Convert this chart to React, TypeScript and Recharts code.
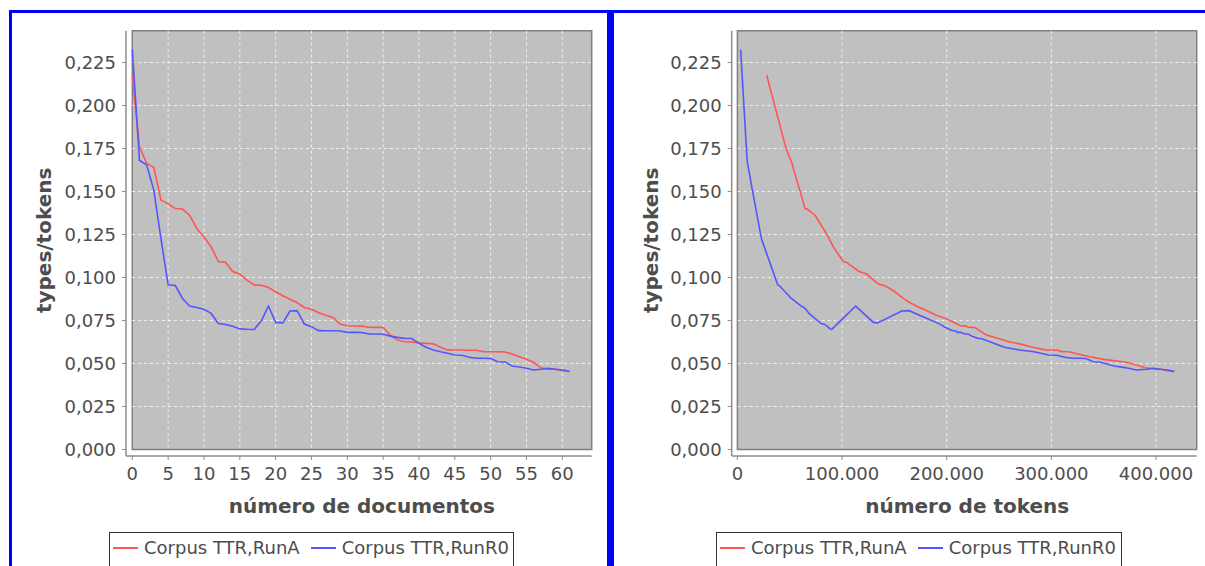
import { LineChart, Line, XAxis, YAxis, CartesianGrid, ReferenceArea, Legend } from "recharts";

// TTR per número de documentos (0..61)
const documentos = [
  0, 1, 2, 3, 4, 5, 6, 7, 8, 9, 10, 11, 12, 13, 14, 15, 16, 17, 18, 19, 20, 21, 22, 23, 24, 25, 26, 27, 28, 29, 30,
  31, 32, 33, 34, 35, 36, 37, 38, 39, 40, 41, 42, 43, 44, 45, 46, 47, 48, 49, 50, 51, 52, 53, 54, 55, 56, 57, 58, 59,
  60, 61,
];
const ttrRunA = [
  0.2176, 0.176, 0.1663, 0.164, 0.145, 0.1428, 0.1401, 0.1398, 0.1362, 0.1285, 0.1235, 0.1178, 0.1093, 0.1089, 0.1035,
  0.102, 0.0985, 0.0957, 0.0955, 0.0942, 0.0917, 0.0894, 0.0873, 0.0853, 0.0826, 0.0815, 0.0795, 0.0781, 0.0768, 0.073,
  0.0719, 0.0718, 0.0717, 0.0711, 0.071, 0.0709, 0.0665, 0.0636, 0.0626, 0.0625, 0.062, 0.0617, 0.0614, 0.0594, 0.0579,
  0.0578, 0.0578, 0.0577, 0.0577, 0.0569, 0.0568, 0.0568, 0.0567, 0.0555, 0.0539, 0.0524, 0.0507, 0.0475, 0.0467, 0.0466,
  0.046, 0.0452,
];
const ttrRunR0 = [
  0.2325, 0.168, 0.1655, 0.1508, 0.1225, 0.0957, 0.0953, 0.0878, 0.0834, 0.0826, 0.0815, 0.0791, 0.0732, 0.0727, 0.0716,
  0.0701, 0.0699, 0.0698, 0.0748, 0.0834, 0.0739, 0.0736, 0.0805, 0.0807, 0.0729, 0.0714, 0.0691, 0.069, 0.069, 0.0689,
  0.0681, 0.0681, 0.068, 0.0671, 0.0671, 0.067, 0.0659, 0.0652, 0.0646, 0.0645, 0.0617, 0.0594, 0.0578, 0.0568, 0.0559,
  0.0549, 0.0548, 0.0536, 0.053, 0.053, 0.0529, 0.051, 0.0509, 0.0485, 0.048, 0.0472, 0.0462, 0.0466, 0.0472, 0.0466,
  0.0462, 0.0455,
];
// cumulative token counts per document
const tokensRunA = [
  28000, 46000, 52200, 53200, 62400, 63300, 64600, 66500, 74200, 82100, 87000, 91600, 101200, 104000, 116200, 123500,
  130000, 136300, 140000, 144000, 150600, 155000, 160000, 165000, 174000, 178000, 185000, 190000, 196500, 210000, 213000,
  215500, 218000, 221000, 224000, 227000, 238000, 254000, 259000, 261000, 264000, 267000, 270000, 282000, 294000, 297000,
  300000, 303000, 306000, 310000, 313000, 316000, 318000, 325000, 337000, 350000, 372000, 390000, 400000, 405000, 410000,
  417500,
];
const tokensRunR0 = [
  3100, 9300, 10000, 14300, 23000, 38500, 40000, 51500, 61000, 63500, 65500, 68400, 80000, 83500, 86000, 88500, 89300,
  90100, 98500, 113000, 130000, 134000, 157000, 164000, 193600, 197500, 205500, 206500, 207500, 208500, 210000, 212000,
  214000, 217000, 219000, 221000, 224000, 227000, 230000, 233000, 245000, 255000, 270000, 283000, 290000, 297000, 305000,
  313000, 320000, 327000, 333000, 340000, 346000, 360000, 366000, 374000, 381000, 391000, 398000, 404000, 410000, 417500,
];

const seriesNames = ["Corpus TTR,RunA", "Corpus TTR,RunR0"];
const yTicks = [0, 0.025, 0.05, 0.075, 0.1, 0.125, 0.15, 0.175, 0.2, 0.225];
const docTicks = [0, 5, 10, 15, 20, 25, 30, 35, 40, 45, 50, 55, 60];
const tokenTicks = [0, 100000, 200000, 300000, 400000];

// axis ranges (the small negative part is the gap between axis line and plot)
const yDomain = [-0.0038, 0.2435];
const docDomain = [-0.88, 64.1];
const tokenDomain = [-5450, 438900];

const docRows = documentos.map((d, i) => ({ doc: d, runA: ttrRunA[i], runR0: ttrRunR0[i] }));
const tokRowsA = tokensRunA.map((t, i) => ({ tokens: t, ttr: ttrRunA[i] }));
const tokRowsR0 = tokensRunR0.map((t, i) => ({ tokens: t, ttr: ttrRunR0[i] }));

const FONT = "DejaVu Sans";
const RED = "#ff5555";
const BLUE = "#5555ff";
const TEXT = "#4d4d4d";
const AXIS = "#8c8c8c";

const fmtY = (v: number) => v.toFixed(3).replace(".", ",");
const fmtTok = (v: number) => String(v).replace(/\B(?=(\d{3})+(?!\d))/g, ".");

const yTitle = (dx: number) => (props: any) => {
  const vb = props.viewBox;
  const cx = vb.x + dx;
  const cy = vb.y + vb.height / 2 - 3;
  return (
    <text
      x={cx}
      y={cy}
      transform={`rotate(-90 ${cx} ${cy})`}
      textAnchor="middle"
      dominantBaseline="central"
      fontFamily={FONT}
      fontWeight="bold"
      fontSize={20}
      fill={TEXT}
    >
      types/tokens
    </text>
  );
};

const xTitle = (title: string) => (props: any) => {
  const vb = props.viewBox;
  return (
    <text
      x={vb.x + vb.width / 2 + 3}
      y={vb.y + 57}
      textAnchor="middle"
      fontFamily={FONT}
      fontWeight="bold"
      fontSize={20}
      fill={TEXT}
    >
      {title}
    </text>
  );
};

const LegendBox = ({ payload }: any) => (
  <div
    style={{
      border: "1.5px solid #333",
      boxSizing: "border-box",
      height: 44,
      paddingTop: 5,
      paddingLeft: 3,
      display: "flex",
      alignItems: "flex-start",
      fontFamily: FONT,
      fontSize: 18,
      lineHeight: "20px",
      color: TEXT,
      background: "#fff",
      whiteSpace: "nowrap",
    }}
  >
    {(payload || []).map((p: any, i: number) => (
      <span key={i} style={{ display: "flex", alignItems: "center", marginRight: 11 }}>
        <span style={{ display: "inline-block", width: 25, height: 2, background: p.color, marginRight: 6 }} />
        {p.value}
      </span>
    ))}
  </div>
);

const gridStyle = { stroke: "#ffffff", strokeOpacity: 0.75, strokeDasharray: "3 3", strokeWidth: 1 };
const tickStyle = { fontSize: 18, fill: TEXT, fontFamily: FONT };

export default function App() {
  return (
    <div style={{ position: "absolute", left: 0, top: 0, width: 1205, height: 566, overflow: "hidden", background: "#fff" }}>
      {/* blue panel frames */}
      <div style={{ position: "absolute", left: 9, top: 10, width: 1196, height: 3, background: "#0000ff" }} />
      <div style={{ position: "absolute", left: 9, top: 10, width: 3, height: 556, background: "#0000ff" }} />
      <div style={{ position: "absolute", left: 607, top: 10, width: 7, height: 556, background: "#0000ff" }} />

      <div style={{ position: "absolute", left: 0, top: 0 }}>
        <LineChart width={607} height={566} data={docRows} margin={{ top: 30.7, right: 15.3, bottom: 0, left: 0 }}>
          <ReferenceArea
            x1={0}
            x2={docDomain[1]}
            y1={0}
            y2={yDomain[1]}
            fill="#c0c0c0"
            fillOpacity={1}
            stroke="#808080"
            strokeWidth={1.5}
            zIndex={-200}
          />
          <CartesianGrid
            {...gridStyle}
            horizontalValues={yTicks.slice(1)}
            verticalValues={docTicks.slice(1)}
          />
          <XAxis
            dataKey="doc"
            type="number"
            domain={docDomain}
            ticks={docTicks}
            height={110}
            tick={tickStyle}
            tickSize={4}
            tickMargin={7}
            axisLine={{ stroke: AXIS, strokeWidth: 1.5 }}
            tickLine={{ stroke: AXIS }}
            label={xTitle("número de documentos")}
          />
          <YAxis
            type="number"
            domain={yDomain}
            ticks={yTicks}
            width={126}
            tick={tickStyle}
            tickSize={4}
            tickMargin={6}
            tickFormatter={fmtY}
            axisLine={{ stroke: AXIS, strokeWidth: 1.5 }}
            tickLine={{ stroke: AXIS }}
            label={yTitle(44)}
          />
          <Line type="linear" dataKey="runA" name={seriesNames[0]} stroke={RED} strokeWidth={1.6} dot={false} isAnimationActive={false} />
          <Line type="linear" dataKey="runR0" name={seriesNames[1]} stroke={BLUE} strokeWidth={1.6} dot={false} isAnimationActive={false} />
          <Legend
            layout="horizontal"
            verticalAlign="middle"
            align="center"
            content={<LegendBox />}
            wrapperStyle={{ left: 109, top: 531.7, width: 405 }}
          />
        </LineChart>
      </div>

      <div style={{ position: "absolute", left: 610, top: 0 }}>
        <LineChart width={595} height={566} margin={{ top: 30.7, right: 8.3, bottom: 0, left: 0 }}>
          <ReferenceArea
            x1={0}
            x2={tokenDomain[1]}
            y1={0}
            y2={yDomain[1]}
            fill="#c0c0c0"
            fillOpacity={1}
            stroke="#808080"
            strokeWidth={1.5}
            zIndex={-200}
          />
          <CartesianGrid
            {...gridStyle}
            horizontalValues={yTicks.slice(1)}
            verticalValues={tokenTicks.slice(1)}
          />
          <XAxis
            dataKey="tokens"
            type="number"
            domain={tokenDomain}
            ticks={tokenTicks}
            height={110}
            tick={tickStyle}
            tickSize={4}
            tickMargin={7}
            tickFormatter={fmtTok}
            axisLine={{ stroke: AXIS, strokeWidth: 1.5 }}
            tickLine={{ stroke: AXIS }}
            label={xTitle("número de tokens")}
          />
          <YAxis
            type="number"
            domain={yDomain}
            ticks={yTicks}
            width={121.7}
            tick={tickStyle}
            tickSize={4}
            tickMargin={6}
            tickFormatter={fmtY}
            axisLine={{ stroke: AXIS, strokeWidth: 1.5 }}
            tickLine={{ stroke: AXIS }}
            label={yTitle(41.5)}
          />
          <Line data={tokRowsA} type="linear" dataKey="ttr" name={seriesNames[0]} stroke={RED} strokeWidth={1.6} dot={false} isAnimationActive={false} />
          <Line data={tokRowsR0} type="linear" dataKey="ttr" name={seriesNames[1]} stroke={BLUE} strokeWidth={1.6} dot={false} isAnimationActive={false} />
          <Legend
            layout="horizontal"
            verticalAlign="middle"
            align="center"
            content={<LegendBox />}
            wrapperStyle={{ left: 106, top: 531.7, width: 406 }}
          />
        </LineChart>
      </div>
    </div>
  );
}
